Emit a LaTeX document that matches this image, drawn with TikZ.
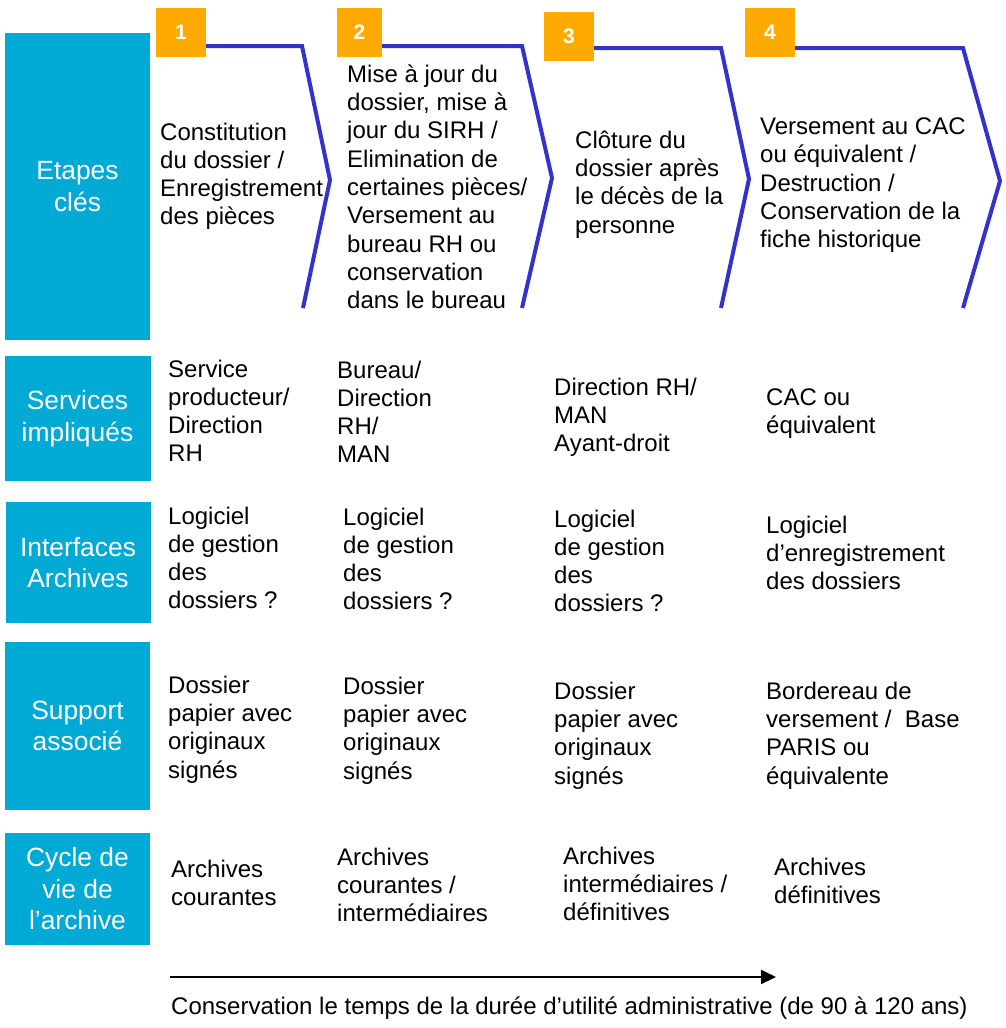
\documentclass[tikz,border=0pt]{standalone}
\usepackage{fontspec}
\setmainfont{Liberation Sans}
\usetikzlibrary{arrows.meta}
\definecolor{cyanbox}{HTML}{00AAD4}
\definecolor{orangebox}{HTML}{FFAA00}
\definecolor{chevblue}{HTML}{3333CC}
\tikzset{
  labelbox/.style={fill=cyanbox, draw=none, text=white, align=center, inner sep=0pt,
    font=\fontsize{26.4}{31.5}\selectfont},
  numbox/.style={fill=orangebox, draw=none, text=white, inner sep=0pt,
    minimum width=50pt, minimum height=49pt, font=\fontsize{21}{24}\selectfont\bfseries},
  bodytxt/.style={anchor=north west, align=left, inner sep=0pt, text=black, yshift=-2.5pt,
    font=\fontsize{24}{28.3}\selectfont, execute at begin node=\strut},
  chev/.style={draw=chevblue, line width=4pt, line join=miter, line cap=butt},
}
\begin{document}
\begin{tikzpicture}[x=1pt,y=-1pt]
\useasboundingbox (0,0) rectangle (1005,1028);
% left label boxes
\node[labelbox, minimum width=145pt, minimum height=307pt] (L1) at (77.5,186.5) {Etapes\\clés};
\node[labelbox, minimum width=146pt, minimum height=125pt] (L2) at (77.5,418.5) {Services\\impliqués};
\node[labelbox, minimum width=145pt, minimum height=121pt] (L3) at (78,562.5) {Interfaces\\Archives};
\node[labelbox, minimum width=145pt, minimum height=168pt] (L4) at (77.5,726) {Support\\associé};
\node[labelbox, minimum width=145pt, minimum height=112pt] (L5) at (77.5,889) {Cycle de\\vie de\\l’archive};
% chevrons
\draw[chev] (205,46) -- (302,46) -- (330,180) -- (303,308);
\draw[chev] (381,46) -- (522,46) -- (552,178) -- (522,308);
\draw[chev] (593,48) -- (721,48) -- (749,179) -- (721,308);
\draw[chev] (794,48) -- (963,48) -- (1000,181) -- (963,308);
% number boxes
\node[numbox] (N1) at (181,32.5) {1};
\node[numbox, minimum width=45pt] (N2) at (359.5,32.5) {2};
\node[numbox] (N3) at (569,36) {3};
\node[numbox] (N4) at (770,32.5) {4};
% row 1
\node[bodytxt] (T11) at (160,120) {Constitution\\du dossier /\\Enregistrement\\des pièces};
\node[bodytxt] (T12) at (347,62) {Mise à jour du\\dossier, mise à\\jour du SIRH /\\Elimination de\\certaines pièces/\\Versement au\\bureau RH ou\\conservation\\dans le bureau};
\node[bodytxt] (T13) at (575,128) {Clôture du\\dossier après\\le décès de la\\personne};
\node[bodytxt] (T14) at (760,115) {Versement au CAC\\ou équivalent /\\Destruction /\\Conservation de la\\fiche historique};
% row 2
\node[bodytxt] (T21) at (168,357) {Service\\producteur/\\Direction\\RH};
\node[bodytxt] (T22) at (337,358) {Bureau/\\Direction\\RH/\\MAN};
\node[bodytxt] (T23) at (554,375) {Direction RH/\\MAN\\Ayant-droit};
\node[bodytxt] (T24) at (766,386) {CAC ou\\équivalent};
% row 3
\node[bodytxt] (T31) at (168,504) {Logiciel\\de gestion\\des\\dossiers ?};
\node[bodytxt] (T32) at (343,505) {Logiciel\\de gestion\\des\\dossiers ?};
\node[bodytxt] (T33) at (554,507) {Logiciel\\de gestion\\des\\dossiers ?};
\node[bodytxt] (T34) at (766,513) {Logiciel\\d’enregistrement\\des dossiers};
% row 4
\node[bodytxt] (T41) at (168,673) {Dossier\\papier avec\\originaux\\signés};
\node[bodytxt] (T42) at (343,674) {Dossier\\papier avec\\originaux\\signés};
\node[bodytxt] (T43) at (554,679) {Dossier\\papier avec\\originaux\\signés};
\node[bodytxt] (T44) at (766,679) {Bordereau de\\versement /~ Base\\PARIS ou\\équivalente};
% row 5
\node[bodytxt] (T51) at (171,857) {Archives\\courantes};
\node[bodytxt] (T52) at (337,845) {Archives\\courantes /\\intermédiaires};
\node[bodytxt] (T53) at (563,844) {Archives\\intermédiaires /\\définitives};
\node[bodytxt] (T54) at (774,855) {Archives\\définitives};
% time arrow
\coordinate (A0) at (170,977);
\coordinate (A1) at (776,977);
\draw[line width=2pt, -{Triangle[length=15pt, width=14pt]}] (A0) -- (A1);
\node[anchor=base west, inner sep=0pt, font=\fontsize{24}{28}\selectfont] (BT) at (171,1014) {Conservation le temps de la durée d’utilité administrative (de 90 à 120 ans)};
\end{tikzpicture}
\end{document}
